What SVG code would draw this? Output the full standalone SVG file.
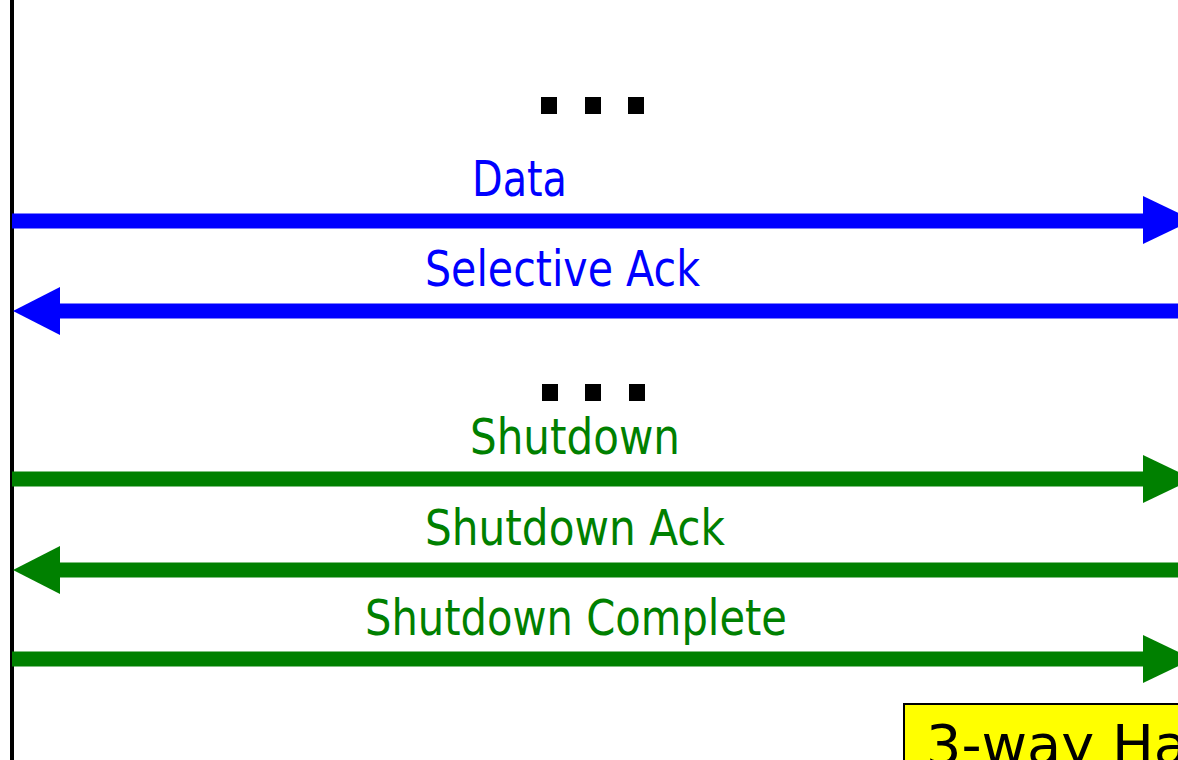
<svg xmlns="http://www.w3.org/2000/svg" width="1178" height="760" viewBox="0 0 1178 760">
<style>
.lbl{font-family:"DejaVu Sans","Liberation Sans",sans-serif;font-size:49px}
.blue{fill:#0000FF}
.green{fill:#008000}
.bline{stroke:#0000FF;stroke-width:15}
.gline{stroke:#008000;stroke-width:15}
.dot{fill:#000}
</style>
<rect width="1178" height="760" fill="#fff"/>
<g id="lifeline"><line x1="12" y1="0" x2="12" y2="760" stroke="#000" stroke-width="4"/></g>
<g id="dots1"><rect class="dot" x="541" y="97" width="16" height="17"/><rect class="dot" x="585" y="97" width="16" height="17"/><rect class="dot" x="628" y="97" width="16" height="17"/></g>
<g id="dots2"><rect class="dot" x="542" y="384" width="16" height="17"/><rect class="dot" x="585" y="384" width="16" height="17"/><rect class="dot" x="629" y="384" width="16" height="17"/></g>
<g id="connectors">
<line class="bline" x1="12" y1="221" x2="1150" y2="221"/>
<polygon class="blue" points="1143,196 1193,220 1143,244"/>
<line class="bline" x1="55" y1="311" x2="1178" y2="311"/>
<polygon class="blue" points="13,311 60,287 60,335"/>
<line class="gline" x1="12" y1="479" x2="1150" y2="479"/>
<polygon class="green" points="1143,455 1193,479 1143,503"/>
<line class="gline" x1="55" y1="570" x2="1178" y2="570"/>
<polygon class="green" points="13,570 60,546 60,594"/>
<line class="gline" x1="12" y1="659" x2="1150" y2="659"/>
<polygon class="green" points="1143,635 1193,659 1143,683"/>
</g>
<g id="labels">
<text class="lbl blue" x="472" y="196" textLength="95" lengthAdjust="spacingAndGlyphs">Data</text>
<text class="lbl blue" x="425" y="286" textLength="275" lengthAdjust="spacingAndGlyphs">Selective Ack</text>
<text class="lbl green" x="470" y="454" textLength="210" lengthAdjust="spacingAndGlyphs">Shutdown</text>
<text class="lbl green" x="425" y="545" textLength="300" lengthAdjust="spacingAndGlyphs">Shutdown Ack</text>
<text class="lbl green" x="365" y="635" textLength="422" lengthAdjust="spacingAndGlyphs">Shutdown Complete</text>
</g>
<g id="handshake-box">
<rect x="904" y="704" width="300" height="80" fill="#FFFF00" stroke="#000" stroke-width="2"/>
<text x="926" y="764" font-family="DejaVu Sans, Liberation Sans, sans-serif" font-size="56" fill="#000" textLength="262" lengthAdjust="spacingAndGlyphs">3-way Ha</text>
</g>
</svg>
